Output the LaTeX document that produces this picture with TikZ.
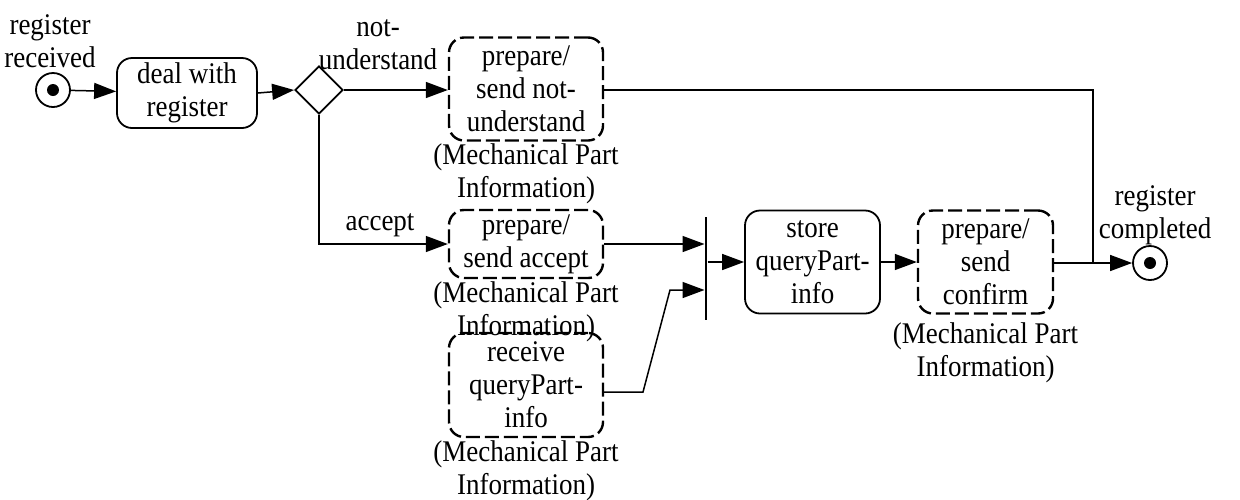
\documentclass[tikz,border=0pt]{standalone}
\usepackage{fontspec}
\setmainfont{Liberation Serif}[FakeStretch=0.9]
\usetikzlibrary{arrows.meta, shapes.geometric, positioning}

\begin{document}
\begin{tikzpicture}[x=0.5pt, y=-0.5pt,
    every node/.style={font=\fontsize{15}{16.5}\selectfont, align=center},
    act/.style={draw, rounded corners=7.5pt, line width=0.9pt, inner sep=0pt,
                minimum width=67.5pt, minimum height=51.5pt},
    dact/.style={act, line width=1.2pt, dash pattern=on 7pt off 2.5pt},
    info/.style={below=#1, inner sep=1pt},
    init/.style={circle, draw, line width=0.9pt, minimum size=17pt, inner sep=0pt,
                 path picture={\fill (path picture bounding box.center) circle (3pt);}},
    flow/.style={-{Triangle[length=11pt, width=8pt]}, line width=0.75pt},
    wire/.style={line width=0.75pt}]
    \useasboundingbox (0,0) rectangle (1240,499);

    % top row
    \node[init] (start) at (53,90) {};
    \node at (50,41) {register\\received};
    \node[act, minimum width=70pt, minimum height=35pt] (deal) at (187,93) {deal with\\register};
    \node[diamond, draw, line width=0.9pt, minimum width=24pt, minimum height=24pt, inner sep=0pt] (dec) at (319,90) {};
    \node at (378,45) {not-\\understand};
    \node[dact, minimum width=77pt] (notund) at (526,89) {prepare/\\send not-\\understand};
    \node[info=0pt of notund] (notinfo) {(Mechanical Part\\Information)};

    % accept branch
    \node at (380,225) {accept};
    \node[dact, minimum width=77pt, minimum height=34pt] (acc) at (526,244) {prepare/\\send accept};
    \node[info=0pt of acc] (accinfo) {(Mechanical Part\\Information)};
    \node[dact, minimum width=77pt, minimum height=52pt] (recv) at (526,385) {receive\\queryPart-\\info};
    \node[info=0pt of recv] (recvinfo) {(Mechanical Part\\Information)};

    % join and completion
    \node[fill=black, inner sep=0pt, minimum width=1.1pt, minimum height=51.5pt] (bar) at (706,268.5) {};
    \node[act] (store) at (812.5,262) {store\\queryPart-\\info};
    \node[dact] (conf) at (985.5,262) {prepare/\\send\\confirm};
    \node[info=3pt of conf] (confinfo) {(Mechanical Part\\Information)};
    \node[init] (end) at (1150,263) {};
    \node at (1155,215) {register\\completed};

    \coordinate (jn) at (1093,263);
    \coordinate (k1) at (643,392);
    \coordinate (k2) at (670,290);

    \draw[flow] (start) -- (deal);
    \draw[flow] (deal.east) -- (dec.west);
    \draw[flow] (dec.east) -- (notund.west |- dec.east);
    \draw[flow] (dec.south) |- (acc.west);
    \draw[wire] (notund.east |- dec.east) -| (jn);
    \draw[flow] (acc.east) -- (acc.east -| bar.west);
    \draw[flow] (recv.east |- k1) -- (k1) -- (k2) -- (k2 -| bar.west);
    \draw[flow] (bar.east |- store.west) -- (store.west);
    \draw[flow] (store) -- (conf);
    \draw[flow] (conf.east |- end) -- (end);
\end{tikzpicture}
\end{document}
